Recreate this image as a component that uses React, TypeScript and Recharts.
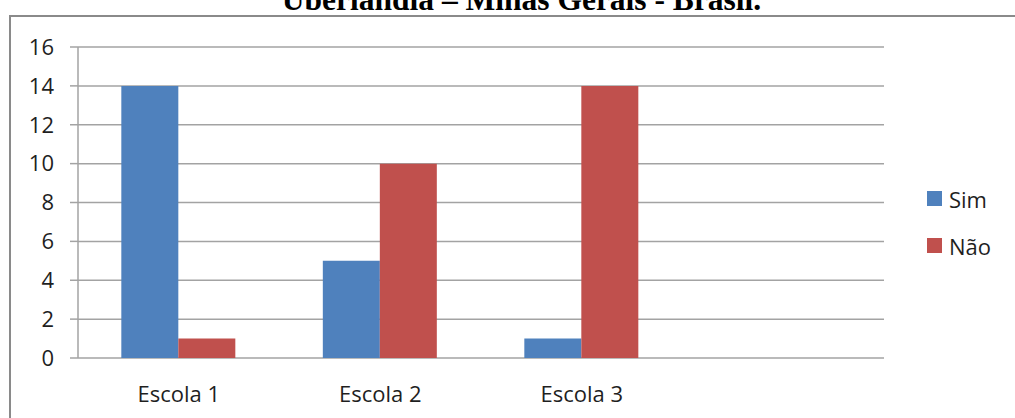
import React from "react";
import {
    BarChart,
    Bar,
    XAxis,
    YAxis,
    CartesianGrid,
    Legend,
} from "recharts";

const categories = ["Escola 1", "Escola 2", "Escola 3", ""];
const seriesNames = ["Sim", "Não"];
const simValues = [14, 5, 1, null];
const naoValues = [1, 10, 14, null];
const yTicks = [0, 2, 4, 6, 8, 10, 12, 14, 16];
const titleText = "Uberlândia – Minas Gerais - Brasil.";

const data = categories.map((name, i) => ({
    name,
    Sim: simValues[i],
    Não: naoValues[i],
}));

// category boundaries, used for the tick marks between the groups
const edgeTicks = [...categories.map((_, i) => i), categories.length];

const WIDTH = 1015;
const HEIGHT = 418;
const FONT = "'Open Sans', 'Noto Sans', sans-serif";
const GRID = "#a3a3a3";

const renderLegend = (props: any) => {
    // keep the series order instead of the alphabetical one
    const payload = [...props.payload].sort(
        (a: any, b: any) => seriesNames.indexOf(a.value) - seriesNames.indexOf(b.value)
    );
    return (
        <div style={{ fontFamily: FONT, fontSize: 22, color: "#1f1f1f" }}>
            {payload.map((entry: any) => (
                <div
                    key={entry.value}
                    style={{ display: "flex", alignItems: "center", height: 47 }}
                >
                    <span
                        style={{
                            display: "inline-block",
                            width: 15,
                            height: 15,
                            background: entry.color,
                            marginRight: 7,
                        }}
                    />
                    <span style={{ lineHeight: "22px" }}>{entry.value}</span>
                </div>
            ))}
        </div>
    );
};

const App: React.FC = () => {
    return (
        <div
            style={{
                position: "absolute",
                left: 0,
                top: 0,
                width: WIDTH,
                height: HEIGHT,
                overflow: "hidden",
                background: "#ffffff",
            }}
        >
            {/* outer frame, runs off the right and bottom edges */}
            <div
                style={{
                    position: "absolute",
                    left: 9,
                    top: 15,
                    width: 1100,
                    height: 500,
                    border: "2px solid #8a8a8a",
                }}
            />
            <div style={{ position: "absolute", left: 0, top: 0 }}>
                <BarChart
                    width={WIDTH}
                    height={HEIGHT}
                    data={data}
                    margin={{ top: 47, right: 131, left: 10, bottom: 0 }}
                    barCategoryGap="21.5%"
                    barGap={0}
                >
                    <CartesianGrid vertical={false} stroke={GRID} strokeWidth={1.5} />
                    <XAxis
                        xAxisId="edges"
                        type="number"
                        domain={[0, categories.length]}
                        ticks={edgeTicks}
                        height={0}
                        tick={false}
                        tickSize={8}
                        stroke={GRID}
                        strokeWidth={1.5}
                    />
                    <XAxis
                        dataKey="name"
                        height={60}
                        axisLine={false}
                        tickLine={false}
                        tickMargin={22}
                        interval={0}
                        tick={{ fontFamily: FONT, fontSize: 22, fill: "#1f1f1f" }}
                    />
                    <YAxis
                        domain={[0, 16]}
                        ticks={yTicks}
                        width={68}
                        tickSize={8}
                        tickMargin={16}
                        stroke={GRID}
                        strokeWidth={1.5}
                        tick={{ fontFamily: FONT, fontSize: 22, fill: "#1f1f1f" }}
                    />
                    <Legend
                        layout="vertical"
                        align="center"
                        verticalAlign="middle"
                        content={renderLegend}
                        wrapperStyle={{ left: 927, top: 175, width: 80 }}
                    />
                    <Bar dataKey="Sim" fill="#4f81bd" isAnimationActive={false} />
                    <Bar dataKey="Não" fill="#c0504d" isAnimationActive={false} />
                </BarChart>
            </div>
            <svg
                width={WIDTH}
                height={20}
                style={{ position: "absolute", left: 0, top: 0 }}
            >
                <text
                    x={521.5}
                    y={9.5}
                    textAnchor="middle"
                    fontFamily="'Liberation Serif', 'Times New Roman', serif"
                    fontWeight="bold"
                    fontSize={31.5}
                    fill="#000000"
                >
                    {titleText}
                </text>
            </svg>
        </div>
    );
};

export default App;
